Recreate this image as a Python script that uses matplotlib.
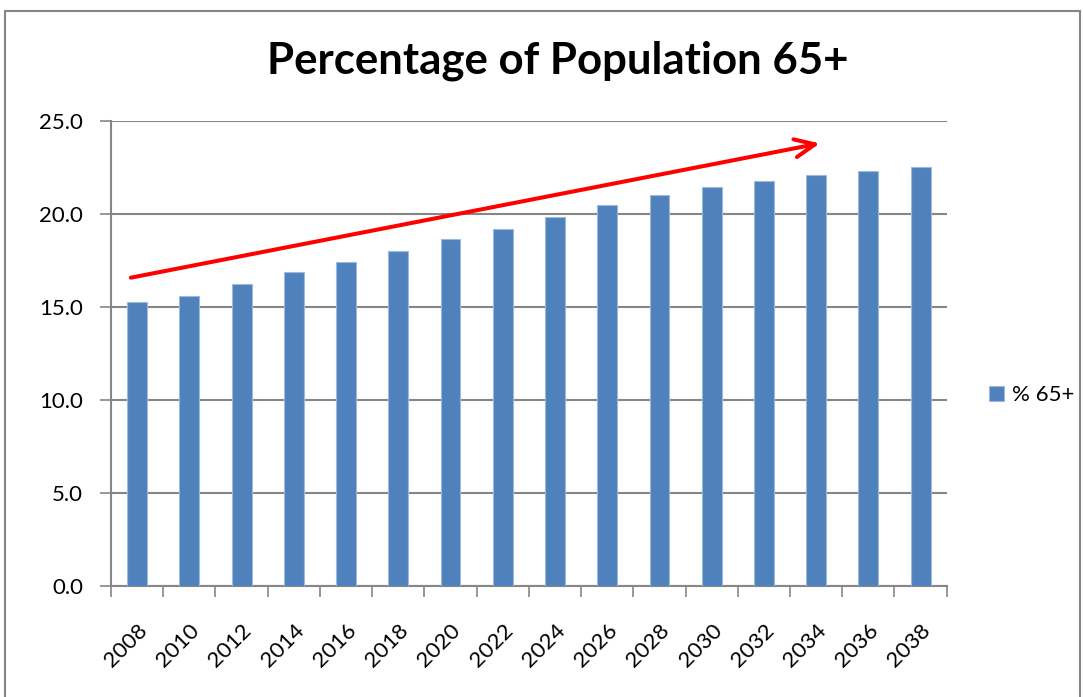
import matplotlib
matplotlib.use("Agg")
import matplotlib.pyplot as plt
import numpy as np

years = ["2008", "2010", "2012", "2014", "2016", "2018", "2020", "2022",
         "2024", "2026", "2028", "2030", "2032", "2034", "2036", "2038"]
pct_65 = [15.24, 15.58, 16.22, 16.85, 17.39, 18.01, 18.66, 19.19,
          19.82, 20.47, 20.99, 21.42, 21.76, 22.07, 22.28, 22.49]
yticks = [0.0, 5.0, 10.0, 15.0, 20.0, 25.0]
title = "Percentage of Population 65+"
series_name = "% 65+"
arrow_start = (-0.12, 16.56)
arrow_end = (13.07, 23.78)

FONT = ["Lato", "DejaVu Sans"]
plt.rcParams['font.family'] = FONT

W, H = 1083, 697
fig = plt.figure(figsize=(W / 100, H / 100), dpi=100)
fig.patch.set_facecolor("white")

# outer chart border
border = plt.Rectangle((5 / W, -0.01), (1080 - 5) / W, 1 - 10.5 / H + 0.01,
                       transform=fig.transFigure, fill=False,
                       edgecolor="#868686", linewidth=1.5)
fig.add_artist(border)

ax = fig.add_axes([111 / W, 1 - 585.7 / H, (946.7 - 111) / W, (585.7 - 120.7) / H])
x = np.arange(len(years))
ax.bar(x, pct_65, width=0.38, color="#4F81BD", edgecolor="#9DB9DD",
       linewidth=0.8, zorder=3, label=series_name)

ax.set_xlim(-0.5, len(years) - 0.5)
ax.set_ylim(0, 25)
ax.set_yticks(yticks)
ax.set_yticklabels([f"{v:.1f}" for v in yticks], fontsize=16)
ax.yaxis.grid(True, color="#868686", linewidth=1.5, zorder=0)
ax.set_axisbelow(True)

ax.set_xticks(np.arange(-0.5, len(years), 1.0))
ax.set_xticklabels([])
ax.set_xticks(x, minor=True)
ax.set_xticklabels(years, minor=True, rotation=45, ha="right",
                   va="top", rotation_mode="anchor", fontsize=16)
ax.tick_params(axis="x", which="minor", length=0, pad=25)
ax.tick_params(axis="x", which="major", length=8, width=1.2, color="#868686")
ax.tick_params(axis="y", length=8, width=1.2, color="#868686", pad=12)

for s in ["top", "right"]:
    ax.spines[s].set_visible(False)
for s in ["left", "bottom"]:
    ax.spines[s].set_color("#868686")
    ax.spines[s].set_linewidth(1.5)

ax.annotate("", xy=arrow_end, xytext=arrow_start,
            arrowprops=dict(arrowstyle="->,head_length=1.45,head_width=0.65",
                            color="#FF0000", lw=2.9, shrinkA=0, shrinkB=0),
            zorder=5)

fig.text(557.5 / W, 1 - 61 / H, title, ha="center", va="center",
         fontsize=31.5, fontweight="bold")

fig.legend(loc="center left", bbox_to_anchor=(989 / W, 1 - 395.5 / H),
           frameon=False, fontsize=16, handlelength=0.68, handleheight=0.68,
           handletextpad=0.36, borderpad=0, borderaxespad=0)

fig.savefig("out.png", dpi=100)
